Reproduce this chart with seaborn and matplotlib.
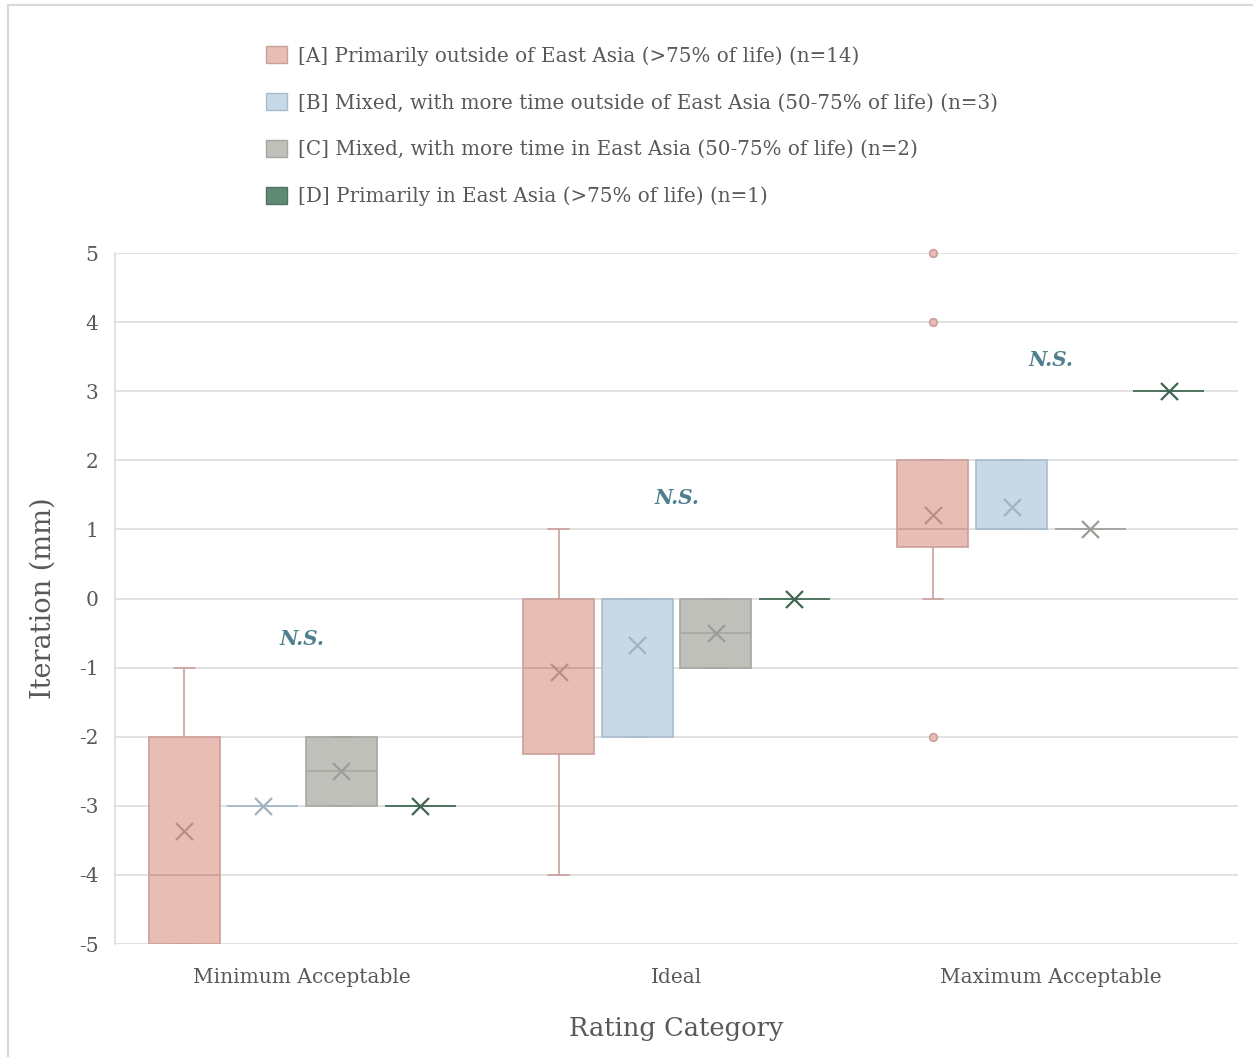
import matplotlib
matplotlib.use("Agg")
import matplotlib.pyplot as plt
from matplotlib.patches import Patch
from matplotlib.lines import Line2D
import seaborn as sns
import pandas as pd
import numpy as np

# Rating categories on the x axis
categories = ["Minimum Acceptable", "Ideal", "Maximum Acceptable"]

# Respondent groups (legend order)
groups = [
    "[A] Primarily outside of East Asia (>75% of life) (n=14)",
    "[B] Mixed, with more time outside of East Asia (50-75% of life) (n=3)",
    "[C] Mixed, with more time in East Asia (50-75% of life) (n=2)",
    "[D] Primarily in East Asia (>75% of life) (n=1)",
]

# Box-plot statistics per group (rows) and category (columns)
whisker_low = [[-5, -4, 0], [-3, -2, 1], [-3, -1, 1], [-3, 0, 3]]
quartile_1 = [[-5, -2.25, 0.75], [-3, -2, 1], [-3, -1, 1], [-3, 0, 3]]
medians = [[-4, -1, 1], [-3, 0, 1], [-2.5, -0.5, 1], [-3, 0, 3]]
quartile_3 = [[-2, 0, 2], [-3, 0, 2], [-2, 0, 1], [-3, 0, 3]]
whisker_high = [[-1, 1, 2], [-3, 0, 2], [-2, 0, 1], [-3, 0, 3]]
means = [[-3.36, -1.07, 1.21], [-3.0, -0.67, 1.33], [-2.5, -0.5, 1.0], [-3.0, 0.0, 3.0]]
outliers = [[[], [], [5, 4, -2]], [[], [], []], [[], [], []], [[], [], []]]

# Significance annotation per category and its height
sig_labels = ["N.S.", "N.S.", "N.S."]
sig_heights = [-0.58, 1.45, 3.45]

fills = ["#e8bdb4", "#c7d9e6", "#bfc0b9", "#5f8b74"]
edges = ["#c9a09a", "#a9bccb", "#a6a7a1", "#4d7460"]
mean_colors = ["#b98f88", "#a3b2bf", "#9b9c97", "#3f6650"]
text_grey = "#595959"
grid_grey = "#d9d9d9"

sns.set_theme(style="white")
plt.rcParams["font.family"] = ["DejaVu Serif"]
plt.rcParams["axes.unicode_minus"] = False

fig = plt.figure(figsize=(12.53, 10.57), dpi=100, facecolor="white",
                 edgecolor="white", linewidth=0)
ax = fig.add_axes([115 / 1253, 1 - 944 / 1057, 1123 / 1253, 691 / 1057])

step = 0.21
box_w = 0.19
offsets = (np.arange(len(groups)) - 1.5) * step
cat_pos = np.arange(len(categories))

for g in range(len(groups)):
    stats = []
    for c in range(len(categories)):
        stats.append(dict(
            whislo=whisker_low[g][c], q1=quartile_1[g][c], med=medians[g][c],
            q3=quartile_3[g][c], whishi=whisker_high[g][c],
            fliers=outliers[g][c], label=categories[c],
        ))
    ax.bxp(
        stats, positions=cat_pos + offsets[g], widths=box_w,
        capwidths=0.055, patch_artist=True, showfliers=True, manage_ticks=False,
        boxprops=dict(facecolor=fills[g], edgecolor=edges[g], linewidth=1.2),
        medianprops=dict(color=edges[g], linewidth=1.2),
        whiskerprops=dict(color=edges[g], linewidth=1.2),
        capprops=dict(color=edges[g], linewidth=1.2),
        flierprops=dict(marker="o", markersize=5.5, markerfacecolor=fills[g],
                        markeredgecolor=edges[g], markeredgewidth=1.2, clip_on=False),
        zorder=3,
    )
    mean_df = pd.DataFrame({"x": cat_pos + offsets[g], "mean": means[g]})
    sns.scatterplot(data=mean_df, x="x", y="mean", marker="x", s=150,
                    color=mean_colors[g], linewidth=1.6, ax=ax, zorder=5,
                    legend=False)

for c in range(len(categories)):
    ax.text(cat_pos[c], sig_heights[c], sig_labels[c], ha="center", va="center",
            fontsize=14.5, fontweight="bold", fontstyle="italic", color="#4e7f8c",
            zorder=6)

ax.set_xlim(-0.5, 2.5)
ax.set_ylim(-5, 5)
ax.set_yticks(np.arange(-5, 6, 1))
ax.set_xticks(cat_pos)
ax.set_xticklabels(categories)
ax.yaxis.grid(True, color=grid_grey, linewidth=1.1)
ax.set_axisbelow(True)
for side in ["top", "right", "bottom"]:
    ax.spines[side].set_visible(False)
ax.spines["left"].set_color(grid_grey)
ax.spines["left"].set_linewidth(1.1)
ax.tick_params(axis="y", length=0, pad=12, labelsize=14.5, labelcolor=text_grey)
ax.tick_params(axis="x", length=0, pad=17, labelsize=14.5, labelcolor=text_grey)
ax.set_xlabel("Rating Category", fontsize=18.5, color=text_grey, labelpad=21)
ax.set_ylabel("Iteration (mm)", fontsize=19.5, color=text_grey, labelpad=16)

handles = [Patch(facecolor=fills[g], edgecolor=edges[g], linewidth=1.0)
           for g in range(len(groups))]
fig.legend(handles, groups, loc="upper left",
           bbox_to_anchor=(258 / 1253, 1 - 38 / 1057), frameon=False,
           fontsize=14.3, labelcolor=text_grey, handlelength=1.05,
           handleheight=0.95, handletextpad=0.55, labelspacing=1.38,
           borderaxespad=0)

# Outer chart frame (top and left edges)
fig.add_artist(Line2D([7.5 / 1253, 1.05], [1 - 5 / 1057, 1 - 5 / 1057],
                      transform=fig.transFigure, color=grid_grey, linewidth=1.5))
fig.add_artist(Line2D([7.5 / 1253, 7.5 / 1253], [-0.05, 1 - 5 / 1057],
                      transform=fig.transFigure, color=grid_grey, linewidth=1.5))

fig.savefig("out.png", dpi=100, facecolor="white", edgecolor="white")
